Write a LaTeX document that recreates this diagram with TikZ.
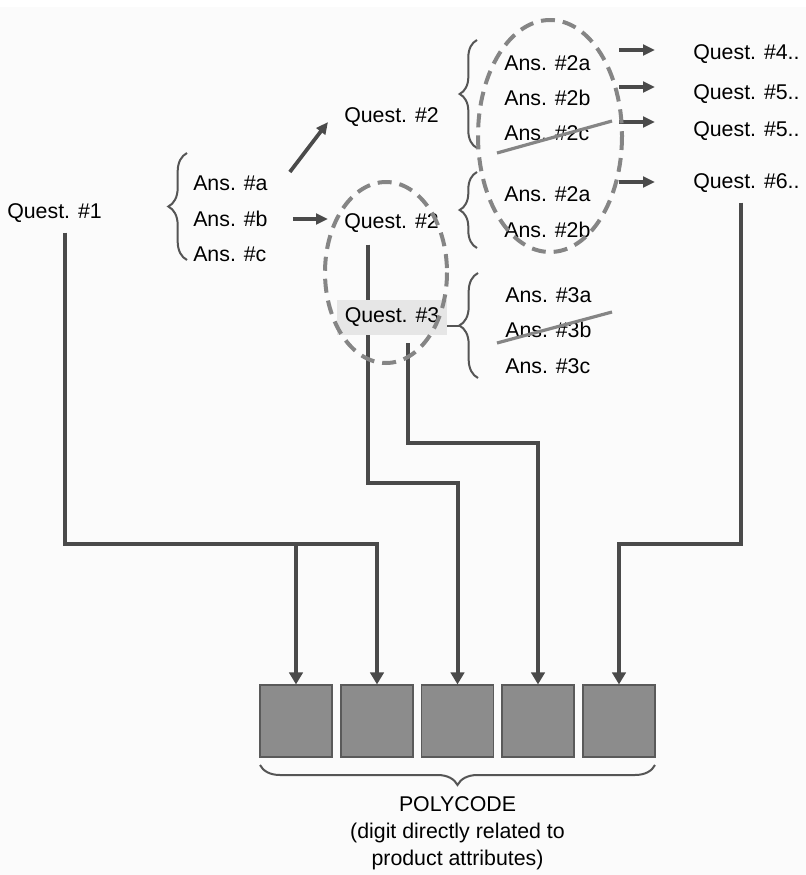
\documentclass[tikz,border=0pt]{standalone}
\usepackage{fontspec}
\setmainfont{Liberation Sans}
\usetikzlibrary{arrows.meta,decorations.pathreplacing,calc}
\definecolor{linec}{HTML}{4A4A4A}
\definecolor{dashc}{HTML}{858585}
\definecolor{boxfill}{HTML}{8C8C8C}
\definecolor{boxdraw}{HTML}{5A5A5A}
\definecolor{q3fill}{HTML}{E6E6E6}
\definecolor{bgc}{HTML}{FBFBFB}
\definecolor{bracec}{HTML}{555555}
\begin{document}
\begin{tikzpicture}[x=0.75pt,y=-0.75pt,
  lbl/.style={font=\fontsize{16}{19}\selectfont, inner sep=0pt, anchor=west, text=black},
  conn/.style={draw=linec, line width=3pt, line join=miter, -{Triangle[length=9pt,width=10pt]}},
  arr/.style={draw=linec, line width=2.8pt, -{Triangle[length=9pt,width=8pt]}},
  strike/.style={draw=dashc, line width=2.4pt},
  dashell/.style={draw=dashc, line width=3pt, dash pattern=on 10.5pt off 6pt},
  brc/.style={draw=bracec, line width=1.5pt, decorate, decoration={brace, amplitude=#1}},
  digit/.style={draw=boxdraw, line width=0.8pt, fill=boxfill, minimum width=54pt, minimum height=54pt, inner sep=0pt},
]
\useasboundingbox (0,0) rectangle (806,875);
\fill[bgc] (0,7) rectangle (806,875);

% digit boxes
\node[digit] (b1) at (296,721) {};
\node[digit] (b2) at (377,721) {};
\node[digit] (b3) at (457.5,721) {};
\node[digit] (b4) at (538,721) {};
\node[digit] (b5) at (619,721) {};

% texts
\node[lbl] (q1) at (7,213) {Quest. \#1};
\node[lbl] (aa) at (193,183) {Ans. \#a};
\node[lbl] (ab) at (193,219) {Ans. \#b};
\node[lbl] (ac) at (193,254) {Ans. \#c};
\node[lbl] (q2a) at (344,117) {Quest. \#2};
\node[lbl] (q2b) at (344,223) {Quest. \#2};
\node[lbl] (a2a) at (504,63) {Ans. \#2a};
\node[lbl] (a2b) at (504,98) {Ans. \#2b};
\node[lbl] (a2c) at (504,133) {Ans. \#2c};
\node[lbl] (a2d) at (504,194) {Ans. \#2a};
\node[lbl] (a2e) at (504,230) {Ans. \#2b};
\node[lbl] (q4) at (693,54) {Quest. \#4..};
\node[lbl] (q5) at (693,94) {Quest. \#5..};
\node[lbl] (q5b) at (693,131) {Quest. \#5..};
\node[lbl] (q6) at (693,183) {Quest. \#6..};
\node[lbl] (a3a) at (505,295) {Ans. \#3a};
\node[lbl] (a3b) at (505,330) {Ans. \#3b};
\node[lbl] (a3c) at (505,366) {Ans. \#3c};

% connectors to digits
\coordinate (bus1) at (0,544);
\coordinate (bus3) at (0,483);
\coordinate (bus4) at (0,443);
\draw[conn] ([shift={(58,10)}]q1.south west) -- ([shift={(58,0)}]q1.south west |- bus1) -| (b2.north);
\draw[conn] (b1.north |- bus1) -- (b1.north);
\draw[conn] ([shift={(24,12)}]q2b.south west) -- ([shift={(24,0)}]q2b.south west |- bus3) -| (b3.north);
\draw[conn] ([shift={(64,0)}]q2b.south west |- 0,343) -- ([shift={(64,0)}]q2b.south west |- bus4) -| (b4.north);
\draw[conn] ([shift={(48,10)}]q6.south west) -- ([shift={(48,0)}]q6.south west |- bus1) -| (b5.north);

% Quest #3 box (over the line)
\node[font=\fontsize{16}{19}\selectfont, fill=q3fill, inner sep=0pt, minimum width=82.5pt, minimum height=26.25pt] (q3) at (392,317) {Quest. \#3};

% braces
\draw[brc=14pt] (187,260) -- (187,153);
\draw[brc=13pt] (477,148) -- (477,40);
\draw[brc=13pt] (477,248) -- (477,172);
\draw[brc=14pt] (478,378) -- (478,273);
\draw[draw=bracec, line width=1.5pt] (q3.east |- 0,325.5) -- (460,325.5);
\draw[brc=15pt] (655,765) -- (260,765);

% small arrows
\draw[arr] ([shift={(22,-11)}]aa.east) -- ([shift={(-16,5)}]q2a.west);
\draw[arr] ([shift={(25,0)}]ab.east) -- ([shift={(-16,-4)}]q2b.west);
\draw[arr] ([shift={(-74,-4)}]q4.west) -- ([shift={(-38,-4)}]q4.west);
\draw[arr] ([shift={(-74,-7)}]q5.west) -- ([shift={(-38,-7)}]q5.west);
\draw[arr] ([shift={(-74,-9)}]q5b.west) -- ([shift={(-38,-9)}]q5b.west);
\draw[arr] ([shift={(-74,-1)}]q6.west) -- ([shift={(-38,-1)}]q6.west);

% strike-throughs
\draw[strike] (497,153) -- (612,121);
\draw[strike] (497,343) -- (612,312);

% dashed ellipses
\draw[dashell] (550,136) ellipse [x radius=72, y radius=116];
\draw[dashell] (386,272.5) ellipse [x radius=61, y radius=90.5];

% caption
\node[font=\fontsize{16}{20.25}\selectfont, align=center, inner sep=0pt, anchor=center] (poly) at (457.5,833) {POLYCODE\\(digit directly related to\\product attributes)};
\end{tikzpicture}
\end{document}
